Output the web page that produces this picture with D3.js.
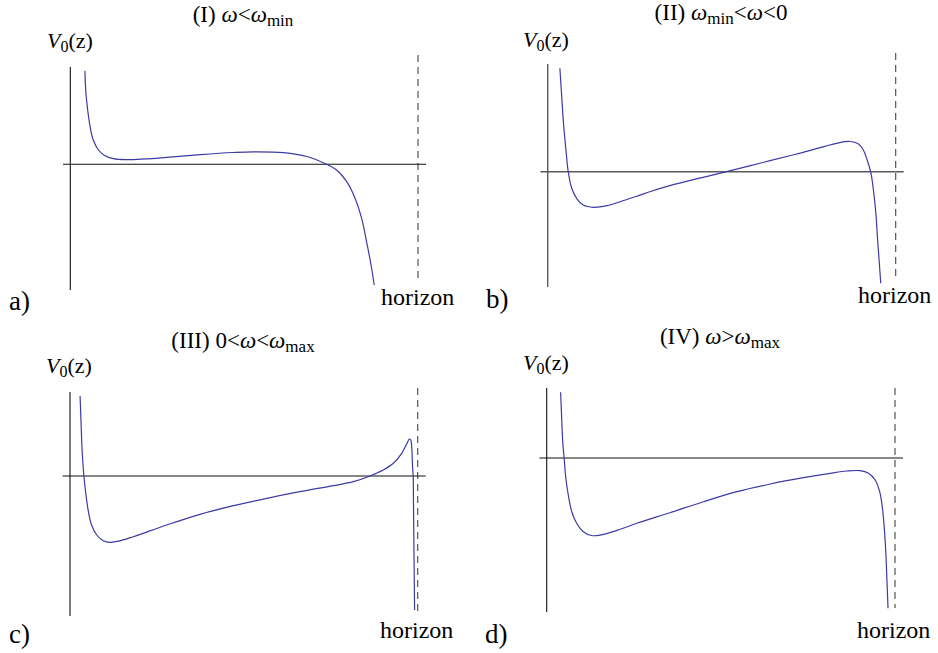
<!DOCTYPE html>
<html>
<head>
<meta charset="utf-8">
<script src="https://cdn.jsdelivr.net/npm/d3@7"></script>
<style>
  body { margin: 0; background: #fff; }
  svg { display: block; }
</style>
</head>
<body>
<svg id="chart" width="938" height="653"></svg>
<script>
// z runs from 0 (the V0 axis) to 1 (the horizon); V0 is in arbitrary units, 0 on the z axis.
const curveI = [
  [0.042, 0.936], [0.045, 0.71], [0.050, 0.543], [0.057, 0.376], [0.066, 0.243],
  [0.081, 0.143], [0.100, 0.085], [0.124, 0.056], [0.160, 0.046], [0.215, 0.054],
  [0.277, 0.070], [0.374, 0.097], [0.469, 0.118], [0.526, 0.125], [0.613, 0.117],
  [0.680, 0.078], [0.737, 0.0], [0.766, -0.057], [0.795, -0.174], [0.819, -0.34],
  [0.838, -0.54], [0.852, -0.774], [0.865, -1.007], [0.874, -1.207]
];
const curveII = [
  [0.035, 1.034], [0.040, 0.767], [0.045, 0.50], [0.052, 0.234], [0.059, 0.0],
  [0.069, -0.166], [0.083, -0.266], [0.102, -0.333], [0.131, -0.356], [0.170, -0.34],
  [0.208, -0.30], [0.256, -0.245], [0.300, -0.193], [0.351, -0.14], [0.430, -0.07],
  [0.514, 0.0], [0.639, 0.11], [0.734, 0.194], [0.830, 0.284], [0.869, 0.302],
  [0.893, 0.277], [0.907, 0.217], [0.918, 0.117], [0.928, 0.0], [0.936, -0.183],
  [0.943, -0.416], [0.948, -0.683], [0.953, -0.916], [0.957, -1.116]
];
const curveIII = [
  [0.029, 0.80], [0.032, 0.51], [0.035, 0.243], [0.040, 0.0], [0.046, -0.19],
  [0.053, -0.357], [0.062, -0.49], [0.077, -0.59], [0.096, -0.647], [0.115, -0.663],
  [0.140, -0.652], [0.182, -0.607], [0.278, -0.49], [0.374, -0.383], [0.470, -0.297],
  [0.566, -0.223], [0.661, -0.157], [0.757, -0.097], [0.815, -0.057], [0.863, 0.0],
  [0.901, 0.06], [0.930, 0.127], [0.954, 0.227], [0.968, 0.317], [0.976, 0.37],
  [0.980, 0.36], [0.983, 0.277], [0.985, 0.11], [0.987, -0.007], [0.988, -0.32],
  [0.989, -0.657], [0.990, -0.99], [0.991, -1.34]
];
const curveIV = [
  [0.040, 0.657], [0.043, 0.397], [0.046, 0.163], [0.050, 0.0], [0.055, -0.203],
  [0.062, -0.37], [0.072, -0.537], [0.086, -0.653], [0.105, -0.737], [0.129, -0.775],
  [0.153, -0.772], [0.211, -0.713], [0.259, -0.653], [0.354, -0.547], [0.450, -0.437],
  [0.546, -0.337], [0.642, -0.26], [0.737, -0.197], [0.814, -0.153], [0.862, -0.13],
  [0.900, -0.127], [0.924, -0.153], [0.943, -0.22], [0.956, -0.337], [0.964, -0.503],
  [0.970, -0.737], [0.974, -0.97], [0.977, -1.237], [0.980, -1.503]
];

// V0 extent covered by the vertical axis in each panel
const vExtents = [[-1.257, 0.973], [-1.153, 1.077], [-1.40, 0.84], [-1.54, 0.70]];

const panelLetters = ["a)", "b)", "c)", "d)"];
const axisLabel = "V0(z)";
const horizonLabel = "horizon";
// Title pieces: plain text, italic symbols and subscripts
const titles = [
  [{ t: "(I) " }, { t: "ω", it: true }, { t: "<" }, { t: "ω", it: true }, { t: "min", sub: true }],
  [{ t: "(II) " }, { t: "ω", it: true }, { t: "min", sub: true }, { t: "<" }, { t: "ω", it: true }, { t: "<0" }],
  [{ t: "(III) 0<" }, { t: "ω", it: true }, { t: "<" }, { t: "ω", it: true }, { t: "max", sub: true }],
  [{ t: "(IV) " }, { t: "ω", it: true }, { t: ">" }, { t: "ω", it: true }, { t: "max", sub: true }]
];
const curves = [curveI, curveII, curveIII, curveIV];

// Page layout of each panel
const layout = [
  { ax: 70.3, hx: 418, top: 67, bottom: 290, dashTop: 55, dashBottom: 278, axisColor: "#111", axisWidth: 1.1,
    titleX: 243, titleY: 22, labelX: 47, labelY: 48, horizonX: 381, horizonY: 305, letterX: 9, letterY: 310 },
  { ax: 547.7, hx: 895.7, top: 64, bottom: 287, dashTop: 53, dashBottom: 278, axisColor: "#5a5a5a", axisWidth: 1.4,
    titleX: 721, titleY: 20, labelX: 523, labelY: 46.5, horizonX: 858, horizonY: 303, letterX: 486, letterY: 308 },
  { ax: 70, hx: 417.7, top: 392, bottom: 616, dashTop: 388, dashBottom: 612, axisColor: "#111", axisWidth: 1.1,
    titleX: 243, titleY: 347.5, labelX: 46, labelY: 373, horizonX: 380, horizonY: 638, letterX: 9, letterY: 643 },
  { ax: 546.7, hx: 895, top: 388, bottom: 612, dashTop: 388, dashBottom: 608, axisColor: "#111", axisWidth: 1.1,
    titleX: 720, titleY: 343.5, labelX: 523, labelY: 370, horizonX: 857, horizonY: 638, letterX: 485, letterY: 643 }
];

const serif = "'Liberation Serif', 'DejaVu Serif', serif";
const svg = d3.select("#chart");
const curveColor = "#3d3aa6";

layout.forEach((L, i) => {
  const g = svg.append("g").attr("font-family", serif);
  const x = d3.scaleLinear().domain([0, 1]).range([L.ax, L.hx]);
  const y = d3.scaleLinear().domain(vExtents[i]).range([L.bottom, L.top]);

  // dashed horizon
  g.append("line")
    .attr("x1", x(1)).attr("x2", x(1))
    .attr("y1", L.dashTop).attr("y2", L.dashBottom)
    .attr("stroke", "#444").attr("stroke-width", 1.1)
    .attr("stroke-dasharray", "7,5");

  // z axis (V0 = 0)
  g.append("line")
    .attr("x1", x(-0.021)).attr("x2", x(1.023))
    .attr("y1", y(0)).attr("y2", y(0))
    .attr("stroke", L.axisColor).attr("stroke-width", L.axisWidth);

  // V0 axis
  g.append("line")
    .attr("x1", x(0)).attr("x2", x(0))
    .attr("y1", y(vExtents[i][0])).attr("y2", y(vExtents[i][1]))
    .attr("stroke", L.axisColor).attr("stroke-width", L.axisWidth);

  // potential curve
  const line = d3.line()
    .x(d => x(d[0])).y(d => y(d[1]))
    .curve(d3.curveCatmullRom.alpha(0.5));
  g.append("path")
    .datum(curves[i])
    .attr("d", line)
    .attr("fill", "none")
    .attr("stroke", curveColor)
    .attr("stroke-width", 1.2);

  // title
  const title = g.append("text")
    .attr("x", L.titleX).attr("y", L.titleY)
    .attr("font-family", serif)
    .attr("text-anchor", "middle")
    .attr("font-size", 23);
  let shift = 0;
  titles[i].forEach(p => {
    const ts = title.append("tspan").text(p.t);
    if (p.it) ts.attr("font-style", "italic");
    if (p.sub) { ts.attr("font-size", 17).attr("dy", 4 - shift); shift = 4; }
    else { ts.attr("dy", -shift); shift = 0; }
  });

  // V0(z) label
  const lab = g.append("text")
    .attr("x", L.labelX).attr("y", L.labelY)
    .attr("font-family", serif)
    .attr("font-size", 22);
  lab.append("tspan").attr("font-style", "italic").text(axisLabel[0]);
  lab.append("tspan").attr("font-size", 16).attr("dy", 4).text(axisLabel[1]);
  lab.append("tspan").attr("dy", -4).text(axisLabel.slice(2));

  // horizon label
  g.append("text")
    .attr("x", L.horizonX).attr("y", L.horizonY)
    .attr("font-family", serif)
    .attr("font-size", 24)
    .text(horizonLabel);

  // panel letter
  g.append("text")
    .attr("x", L.letterX).attr("y", L.letterY)
    .attr("font-family", serif)
    .attr("font-size", 27)
    .text(panelLetters[i]);
});
</script>
</body>
</html>
